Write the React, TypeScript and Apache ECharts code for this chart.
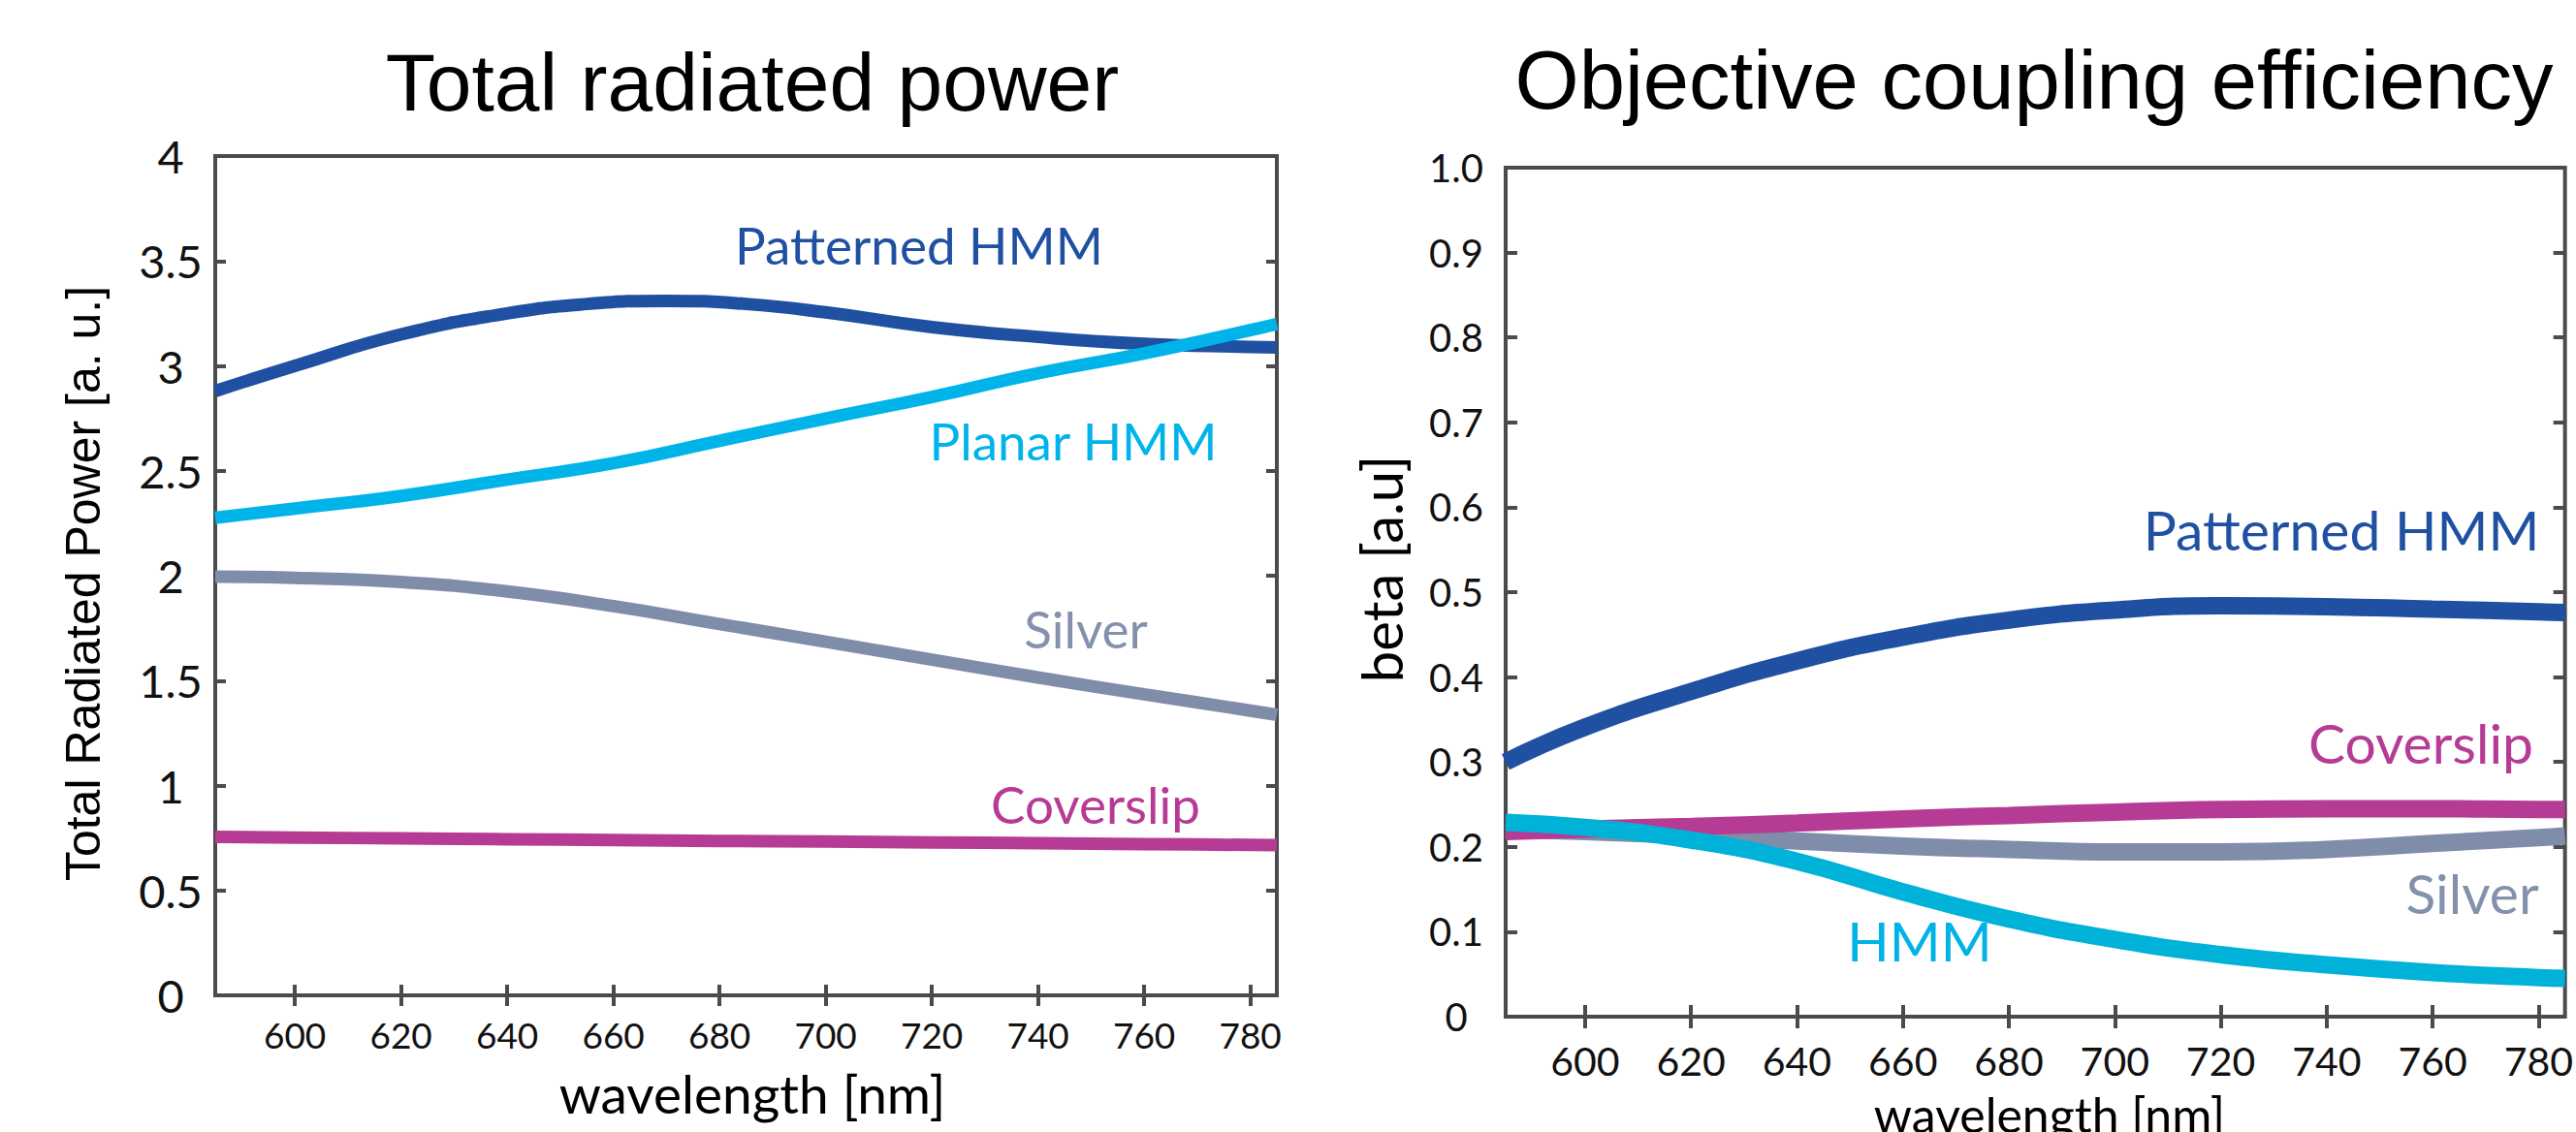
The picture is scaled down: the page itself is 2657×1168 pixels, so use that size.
import React, { useEffect, useRef } from 'react';
import * as echarts from 'echarts';

// wavelength sample points [nm]
const wavelengths = [585, 600, 620, 640, 660, 680, 700, 720, 740, 760, 780, 785];
const wavelengthsPeak = [585, 600, 620, 640, 655, 670, 685, 700, 720, 740, 760, 780, 785];
const xTickValues = [600, 620, 640, 660, 680, 700, 720, 740, 760, 780];

// Total radiated power [a. u.]
const powerPatternedHMM = [2.88, 3.0, 3.15, 3.25, 3.295, 3.31, 3.295, 3.255, 3.185, 3.138, 3.105, 3.09, 3.088];
const powerPlanarHMM = [2.276, 2.32, 2.38, 2.458, 2.536, 2.643, 2.749, 2.852, 2.965, 3.06, 3.17, 3.2];
const powerSilver = [1.995, 1.99, 1.97, 1.925, 1.855, 1.77, 1.685, 1.6, 1.515, 1.435, 1.357, 1.337];
const powerCoverslip = [0.755, 0.752, 0.748, 0.744, 0.74, 0.736, 0.733, 0.729, 0.725, 0.721, 0.717, 0.716];

// Objective coupling efficiency (beta)
const betaPatternedHMM = [0.3, 0.341, 0.383, 0.419, 0.447, 0.467, 0.479, 0.484, 0.483, 0.48, 0.477, 0.476];
const betaCoverslip = [0.218, 0.221, 0.224, 0.228, 0.233, 0.237, 0.241, 0.244, 0.245, 0.245, 0.244, 0.244];
const betaSilver = [0.221, 0.218, 0.213, 0.207, 0.201, 0.197, 0.194, 0.194, 0.197, 0.204, 0.211, 0.213];
const betaHMM = [0.229, 0.223, 0.208, 0.183, 0.147, 0.115, 0.091, 0.073, 0.061, 0.052, 0.046, 0.045];

const C_PAT = '#1f50a1';
const C_PLANAR = '#00b4ea';
const C_HMM = '#00b2d8';
const C_SILVER = '#7f8dab';
const C_COVER = '#b63b94';
const AXIS = '#4b4b4d';

const pairs = (ys: number[], xs: number[] = wavelengths) => xs.map((w, i) => [w, ys[i]]);

function makeXAxes(gridIndex: number, fontSize: number, margin: number, tickLen: number) {
  const base = {
    type: 'value',
    gridIndex,
    min: 585,
    max: 785,
    axisLine: { show: false },
    splitLine: { show: false },
    axisTick: {
      show: true,
      inside: true,
      length: tickLen,
      customValues: xTickValues,
      lineStyle: { color: AXIS, width: 4 },
    },
  };
  return [
    {
      ...base,
      position: 'bottom',
      axisLabel: {
        show: true,
        customValues: xTickValues,
        fontFamily: 'Lato',
        fontSize,
        color: '#111',
        margin,
      },
    },
    { ...base, position: 'top', axisLabel: { show: false } },
  ];
}

function makeYAxes(
  gridIndex: number,
  max: number,
  interval: number,
  fontSize: number,
  margin: number,
  tickLen: number,
  formatter?: (v: number) => string
) {
  const base = {
    type: 'value',
    gridIndex,
    min: 0,
    max,
    interval,
    axisLine: { show: false },
    splitLine: { show: false },
    axisTick: { show: true, inside: true, length: tickLen, lineStyle: { color: AXIS, width: 4 } },
  };
  return [
    {
      ...base,
      position: 'left',
      axisLabel: {
        show: true,
        fontFamily: 'Lato',
        fontSize,
        color: '#111',
        margin,
        align: 'center',
        formatter,
      },
    },
    { ...base, position: 'right', axisLabel: { show: false } },
  ];
}

function line(
  name: string,
  xIdx: number,
  yIdx: number,
  ys: number[],
  color: string,
  width: number,
  xs: number[] = wavelengths
) {
  return {
    name,
    type: 'line',
    xAxisIndex: xIdx,
    yAxisIndex: yIdx,
    data: pairs(ys, xs),
    smooth: 0.5,
    symbol: 'none',
    lineStyle: { color, width, cap: 'butt' },
    z: 3,
  };
}

function label(text: string, x: number, y: number, color: string, fontSize: number, family = 'Lato', rotation = 0) {
  return {
    type: 'text',
    x,
    y,
    rotation,
    z: 10,
    style: {
      text,
      fill: color,
      fontFamily: family,
      fontSize,
      align: 'center',
      verticalAlign: 'middle',
    },
  };
}

export default function App() {
  const ref = useRef<HTMLDivElement>(null);
  useEffect(() => {
    if (!ref.current) return;
    const chart = echarts.init(ref.current, undefined, { renderer: 'svg' });
    const option = {
      animation: false,
      backgroundColor: '#ffffff',
      grid: [
        {
          left: 222,
          top: 161,
          width: 1095,
          height: 866,
          show: true,
          borderWidth: 4,
          borderColor: AXIS,
          backgroundColor: 'transparent',
        },
        {
          left: 1553,
          top: 173,
          width: 1109,
          height: 876,
          show: true,
          borderWidth: 4,
          borderColor: AXIS,
          backgroundColor: 'transparent',
        },
      ],
      xAxis: [...makeXAxes(0, 37, 22, 11), ...makeXAxes(1, 41, 25, 12)],
      yAxis: [
        ...makeYAxes(0, 4, 0.5, 47, 46, 11),
        ...makeYAxes(1, 1, 0.1, 40, 51, 12, (v: number) => (v === 0 ? '0' : v.toFixed(1))),
      ],
      series: [
        line('Coverslip', 0, 0, powerCoverslip, C_COVER, 13),
        line('Silver', 0, 0, powerSilver, C_SILVER, 13),
        line('Patterned HMM', 0, 0, powerPatternedHMM, C_PAT, 13, wavelengthsPeak),
        line('Planar HMM', 0, 0, powerPlanarHMM, C_PLANAR, 13),
        line('Silver', 2, 2, betaSilver, C_SILVER, 18),
        line('Coverslip', 2, 2, betaCoverslip, C_COVER, 18),
        line('Patterned HMM', 2, 2, betaPatternedHMM, C_PAT, 18),
        line('HMM', 2, 2, betaHMM, C_HMM, 18),
      ],
      graphic: [
        label('Total radiated power', 776, 85, '#000', 84, 'Liberation Sans'),
        label('Objective coupling efficiency', 2098, 82, '#000', 85, 'Liberation Sans'),
        label('Total Radiated Power [a. u.]', 86, 602, '#000', 50, 'Liberation Sans', Math.PI / 2),
        label('beta [a.u]', 1424, 587, '#000', 58, 'Lato', Math.PI / 2),
        label('wavelength [nm]', 776, 1128, '#000', 55),
        label('wavelength [nm]', 2114, 1150, '#000', 50),
        label('Patterned HMM', 948, 252, C_PAT, 53),
        label('Planar HMM', 1107, 454, C_PLANAR, 53),
        label('Silver', 1120, 648, '#8391ad', 53),
        label('Coverslip', 1130, 829, C_COVER, 53),
        label('Patterned HMM', 2415, 546, C_PAT, 57),
        label('Coverslip', 2497, 766, C_COVER, 57),
        label('Silver', 2550, 921, '#8391ad', 57),
        label('HMM', 1980, 970, '#00b3e6', 57),
      ],
    };
    chart.setOption(option as any);
    return () => chart.dispose();
  }, []);
  return (
    <div
      ref={ref}
      style={{ position: 'fixed', left: 0, top: 0, width: 2657, height: 1168, overflow: 'hidden', background: '#fff' }}
    />
  );
}
